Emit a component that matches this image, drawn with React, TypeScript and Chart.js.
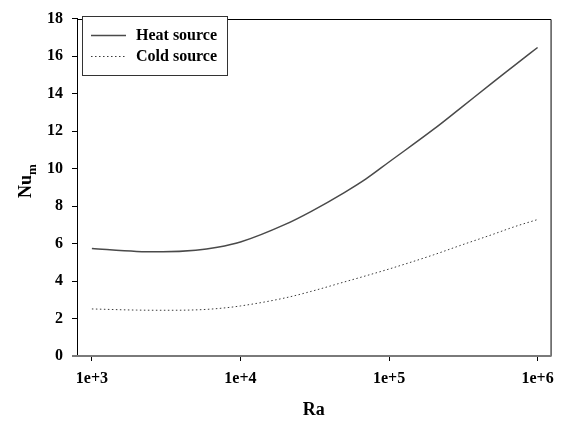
import React, { useEffect, useRef } from 'react';
import { Chart, registerables } from 'chart.js';

Chart.register(...registerables);

const raValues = [1000, 2000, 3000, 5000, 7000, 10000, 20000, 30000, 50000, 70000, 100000, 200000, 300000, 500000, 700000, 1000000];
const heatSource = [5.73, 5.58, 5.56, 5.64, 5.8, 6.08, 7.02, 7.72, 8.72, 9.45, 10.35, 12.1, 13.2, 14.6, 15.5, 16.46];
const coldSource = [2.51, 2.45, 2.44, 2.46, 2.53, 2.67, 3.1, 3.45, 3.95, 4.28, 4.64, 5.4, 5.89, 6.49, 6.9, 7.28];
const xTickValues = [1000, 10000, 100000, 1000000];
const xTickLabels = ['1e+3', '1e+4', '1e+5', '1e+6'];
const seriesNames = ['Heat source', 'Cold source'];

const SERIF = '"Liberation Serif", "Times New Roman", serif';

const decorPlugin = {
  id: 'decor',
  afterDraw(chart: any) {
    const ctx = chart.ctx as CanvasRenderingContext2D;
    const a = chart.chartArea;
    ctx.save();
    // top and right frame
    ctx.strokeStyle = '#000';
    ctx.lineWidth = 1;
    ctx.beginPath();
    ctx.moveTo(a.left, Math.round(a.top) + 0.5);
    ctx.lineTo(a.right + 0.5, Math.round(a.top) + 0.5);
    ctx.lineTo(a.right + 0.5, a.bottom);
    ctx.stroke();
    // x axis line (gray, extended left)
    ctx.strokeStyle = '#7a7a7a';
    ctx.lineWidth = 2;
    ctx.beginPath();
    ctx.moveTo(a.left - 5, a.bottom);
    ctx.lineTo(a.right + 1, a.bottom);
    ctx.stroke();

    // legend
    const lx = 82.5, ly = 16.5, lw = 145, lh = 59;
    ctx.fillStyle = '#fff';
    ctx.fillRect(lx, ly, lw, lh);
    ctx.strokeStyle = '#333';
    ctx.lineWidth = 1;
    ctx.strokeRect(lx, ly, lw, lh);
    const rows = [35, 56];
    chart.data.datasets.forEach((ds: any, i: number) => {
      const y = rows[i] + 0.5;
      ctx.save();
      ctx.strokeStyle = ds.borderColor;
      ctx.lineWidth = ds.borderWidth;
      ctx.setLineDash(ds.borderDash || []);
      ctx.beginPath();
      ctx.moveTo(91, y);
      ctx.lineTo(126, y);
      ctx.stroke();
      ctx.restore();
      ctx.fillStyle = '#000';
      ctx.font = 'bold 16px ' + SERIF;
      ctx.textBaseline = 'middle';
      ctx.textAlign = 'left';
      ctx.fillText(ds.label, 136, rows[i] + 1);
    });

    // y axis title Nu_m
    ctx.save();
    ctx.translate(31, 198);
    ctx.rotate(-Math.PI / 2);
    ctx.fillStyle = '#000';
    ctx.textBaseline = 'alphabetic';
    ctx.textAlign = 'left';
    ctx.font = 'bold 18px ' + SERIF;
    ctx.fillText('Nu', 0, 0);
    const w = ctx.measureText('Nu').width;
    ctx.font = 'bold 13px ' + SERIF;
    ctx.fillText('m', w, 5);
    ctx.restore();
    ctx.restore();
  },
};

export default function App() {
  const ref = useRef<HTMLCanvasElement>(null);
  useEffect(() => {
    if (!ref.current) return;
    const chart = new Chart(ref.current, {
      type: 'line',
      data: {
        datasets: [
          {
            label: seriesNames[0],
            data: raValues.map((x, i) => ({ x, y: heatSource[i] })),
            borderColor: '#4a4a4a',
            borderWidth: 1.5,
            pointRadius: 0,
            cubicInterpolationMode: 'monotone',
            fill: false,
          },
          {
            label: seriesNames[1],
            data: raValues.map((x, i) => ({ x, y: coldSource[i] })),
            borderColor: '#3a3a3a',
            borderWidth: 1,
            borderDash: [1.5, 2.5],
            pointRadius: 0,
            cubicInterpolationMode: 'monotone',
            fill: false,
          },
        ],
      },
      options: {
        animation: false,
        responsive: false,
        devicePixelRatio: 1,
        layout: { padding: { top: 14, right: 11, left: 0, bottom: 0 } },
        plugins: { legend: { display: false }, tooltip: { enabled: false } },
        scales: {
          x: {
            type: 'logarithmic',
            min: 794,
            max: 1223000,
            afterBuildTicks: (s: any) => {
              s.ticks = xTickValues.map((v) => ({ value: v }));
            },
            afterFit: (s: any) => {
              s.height = 65;
            },
            ticks: {
              autoSkip: false,
              maxRotation: 0,
              color: '#000',
              padding: 8,
              font: { family: SERIF, size: 16, weight: 'bold' },
              callback: (v: any) => {
                const i = xTickValues.indexOf(Number(v));
                return i >= 0 ? xTickLabels[i] : '';
              },
            },
            grid: { display: true, drawOnChartArea: false, drawTicks: true, tickLength: 5, tickColor: '#000' },
            border: { display: false },
            title: {
              display: true,
              text: 'Ra',
              color: '#000',
              font: { family: SERIF, size: 18, weight: 'bold' },
              padding: { top: 0, bottom: 0 },
            },
          },
          y: {
            min: 0,
            max: 18,
            afterFit: (s: any) => {
              s.width = 77;
            },
            ticks: {
              stepSize: 2,
              color: '#000',
              padding: 9,
              font: { family: SERIF, size: 16, weight: 'bold' },
            },
            grid: { display: true, drawOnChartArea: false, drawTicks: true, tickLength: 5, tickColor: '#000' },
            border: { display: true, color: '#000', width: 1 },
          },
        },
      },
      plugins: [decorPlugin],
    } as any);
    return () => chart.destroy();
  }, []);
  return (
    <div style={{ position: 'absolute', left: 0, top: 0, width: 562, height: 421, background: '#fff' }}>
      <canvas ref={ref} width={562} height={421} />
    </div>
  );
}
